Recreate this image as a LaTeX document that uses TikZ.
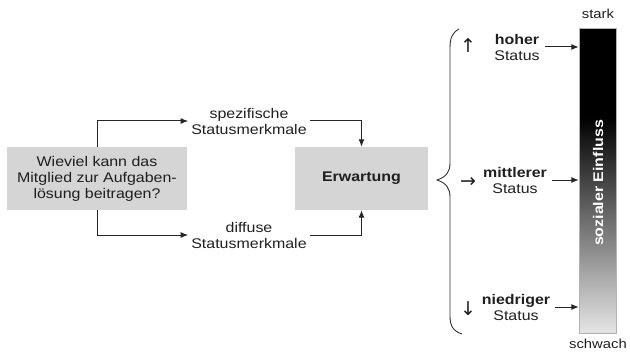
\documentclass[tikz,border=0pt]{standalone}
\usepackage{fontspec}
\setmainfont{Liberation Sans}[FakeStretch=1.14]
\newfontfamily\arrowfont{DejaVu Sans}
\usetikzlibrary{arrows.meta}

\begin{document}
\begin{tikzpicture}[x=1pt,y=-1pt,
  every node/.style={font=\fontsize{14}{16}\selectfont, text=black!88,
    align=center, inner sep=0pt},
  graybox/.style={fill=gray!33, minimum height=63pt},
  label/.style={inner xsep=3pt},
  conn/.style={line width=1pt, draw=black!85,
    -{Latex[length=7.5pt,width=6pt]}},
  glyph/.style={font=\arrowfont\fontsize{19}{20}\selectfont},
  scale label/.style={font=\fontsize{13}{15}\selectfont}
]
\useasboundingbox (0,0) rectangle (630,353);

% question and expectation boxes
\node[graybox, minimum width=180pt] (Q) at (97,178.5)
  {Wieviel kann das\\Mitglied zur Aufgaben-\\lösung beitragen?};
\node[graybox, minimum width=133pt] (E) at (361.5,178.5)
  {\textbf{Erwartung}};

% status characteristics
\node[label] (spez) at (249,121) {spezifische\\Statusmerkmale};
\node[label] (diff) at (249,235) {diffuse\\Statusmerkmale};

\draw[conn] (Q.north) |- (spez.west);
\draw[conn] (spez.east) -| (E.north);
\draw[conn] (Q.south) |- (diff.west);
\draw[conn] (diff.east) -| (E.south);

% curly brace opening to the right
\draw[line width=0.9pt, black!80]
  (459,29) .. controls (452,33) and (450,38) .. (450,48)
  -- (450,163) .. controls (450,172) and (446,177) .. (437,180)
  .. controls (446,183) and (450,188) .. (450,197)
  -- (450,316) .. controls (450,326) and (453,331) .. (462,334);

% direction marks
\node[glyph] (up) at (468,46) {↑};
\node[glyph] (mid) at (468,182) {→};
\node[glyph] (down) at (468,309) {↓};

% status levels
\node (hs) at (517,47) {\textbf{hoher}\\Status};
\node (ms) at (515,180) {\textbf{mittlerer}\\Status};
\node (ns) at (516,307) {\textbf{niedriger}\\Status};

% influence scale
\fill[black] (579,28) rectangle (616,118);
\shade[top color=black, middle color=black!50, bottom color=black!10]
  (579,117.5) rectangle (616,333);
\draw[black!30, line width=0.4pt] (579,28) rectangle (616,333);
\node[minimum width=37pt, minimum height=305pt] (bar) at (597.5,180.5) {};
\node[rotate=90, text=white] (einfluss) at (598,183)
  {\textbf{sozialer Einfluss}};
\node[scale label] (stark) at (598,14) {stark};
\node[scale label] (schwach) at (598,344) {schwach};

\draw[conn] ([xshift=5pt]hs.east) -- (hs.east -| bar.west);
\draw[conn] ([xshift=5pt]ms.east) -- (ms.east -| bar.west);
\draw[conn] ([xshift=5pt]ns.east) -- (ns.east -| bar.west);
\end{tikzpicture}
\end{document}
